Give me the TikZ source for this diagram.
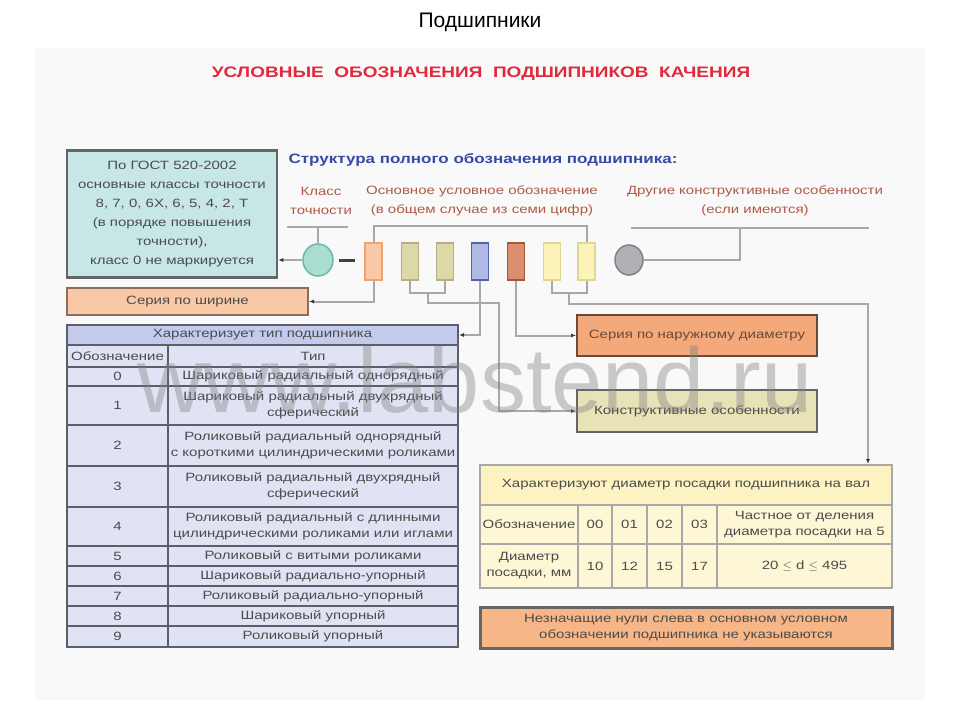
\documentclass[tikz,border=0pt]{standalone}
\usepackage{fontspec}
\setmainfont{Liberation Sans}[FakeStretch=1.25]
\newfontfamily\slidefont{Liberation Sans}
\usetikzlibrary{arrows.meta,shapes.geometric,calc}

\definecolor{panelbg}{HTML}{F9F9F9}
\definecolor{titlered}{HTML}{E0293A}
\definecolor{headblue}{HTML}{3A48A6}
\definecolor{labelbrown}{HTML}{B05A48}
\definecolor{inkgrey}{HTML}{4C4C4C}
\definecolor{boxgrey}{HTML}{666666}
\definecolor{linegrey}{HTML}{A8A8A8}
\definecolor{tealfill}{HTML}{C6E7E5}
\definecolor{clsfill}{HTML}{A9DDD0}
\definecolor{clsdraw}{HTML}{6DB9A9}
\definecolor{peach}{HTML}{F9C8A6}
\definecolor{peachdraw}{HTML}{8C6C5C}
\definecolor{dgpeach}{HTML}{F1A46A}
\definecolor{khaki}{HTML}{DCD8A8}
\definecolor{khakidraw}{HTML}{B6AE88}
\definecolor{dgblue}{HTML}{B1B9E5}
\definecolor{dgbluedraw}{HTML}{5262B2}
\definecolor{dgbrown}{HTML}{D98F6F}
\definecolor{dgbrowndraw}{HTML}{A25A3A}
\definecolor{paleyellow}{HTML}{FBF3B8}
\definecolor{paleyellowdraw}{HTML}{DFD792}
\definecolor{othfill}{HTML}{B1B1B5}
\definecolor{othdraw}{HTML}{818189}
\definecolor{salmon}{HTML}{F4A97A}
\definecolor{salmondraw}{HTML}{6A4A3A}
\definecolor{constrfill}{HTML}{E7E3B7}
\definecolor{rowfill}{HTML}{DFE3F3}
\definecolor{headfill}{HTML}{C3CAEC}
\definecolor{rowline}{HTML}{5C5E6A}
\definecolor{shaftfill}{HTML}{FDF7D6}
\definecolor{shafthead}{HTML}{FCF2C2}
\definecolor{notefill}{HTML}{F6B687}

\begin{document}
\begin{tikzpicture}[x=1pt,y=-1pt,
  >=Latex,
  txt/.style={text=inkgrey,font=\fontsize{12}{16}\selectfont},
  box/.style={draw,line width=2.5pt,inner sep=0pt,align=center,txt},
  cell/.style={draw=rowline,line width=2pt,fill=rowfill,inner sep=0pt,align=center,txt},
  shcell/.style={draw=linegrey,line width=2pt,fill=shaftfill,inner sep=0pt,align=center,txt},
  digit/.style={draw,line width=1.5pt,minimum width=17pt,minimum height=37pt,inner sep=0pt},
  label/.style={text=labelbrown,align=center,font=\fontsize{12}{19}\selectfont},
  conn/.style={draw=linegrey,line width=2pt},
  link/.style={conn,-{Latex[length=5pt,width=4pt,color=black!80]}}
]
  \useasboundingbox (0,0) rectangle (960,720);
  \fill[panelbg] (35,48) rectangle (925,700);

  % titles
  \node[font=\slidefont\fontsize{21}{24}\selectfont] (slidetitle) at (480,22) {Подшипники};
  \node[text=titlered,font=\bfseries\fontsize{15.2}{17}\selectfont] (maintitle) at (481,74)
    {УСЛОВНЫЕ\ \ ОБОЗНАЧЕНИЯ\ \ ПОДШИПНИКОВ\ \ КАЧЕНИЯ};

  % precision class box
  \node[box,fill=tealfill,draw=boxgrey,minimum width=210pt,minimum height=127pt,
    font=\fontsize{12}{19}\selectfont] (gost) at (172,214)
    {По ГОСТ 520-2002\\основные классы точности\\8, 7, 0, 6X, 6, 5, 4, 2, T\\
     (в порядке повышения\\точности),\\класс 0 не маркируется};

  % structure heading and labels
  \node[text=headblue,font=\bfseries\fontsize{13.6}{16}\selectfont] (struct) at (483,160)
    {Структура полного обозначения подшипника:};
  \node[label] (lblcls) at (321,201) {Класс\\точности};
  \node[label] (lblmain) at (482,201) {Основное условное обозначение\\(в общем случае из семи цифр)};
  \node[label] (lbloth) at (755,201) {Другие конструктивные особенности\\(если имеются)};

  % designation row
  \node[ellipse,draw=clsdraw,fill=clsfill,line width=1.5pt,minimum width=30pt,
    minimum height=32pt,inner sep=0pt] (cls) at (318,260) {};
  \draw[line width=3pt,draw=black!75] (339,260) -- (355,260);
  \foreach \i/\x/\fc/\dc in {1/373.5/peach/dgpeach, 2/410/khaki/khakidraw,
      3/445/khaki/khakidraw, 4/480/dgblue/dgbluedraw, 5/516/dgbrown/dgbrowndraw,
      6/552/paleyellow/paleyellowdraw, 7/586.5/paleyellow/paleyellowdraw}
    \node[digit,fill=\fc,draw=\dc] (d\i) at (\x,261.5) {};
  \node[ellipse,draw=othdraw,fill=othfill,line width=1.5pt,minimum width=28pt,
    minimum height=30pt,inner sep=0pt] (oth) at (629,260) {};

  % brackets
  \coordinate (clsL) at (287,227);
  \coordinate (clsR) at (348,227);
  \coordinate (othL) at (631,228);
  \coordinate (othR) at (869,228);
  \draw[conn] (clsL) -- (clsR);
  \draw[conn] (cls.north) -- (cls.north |- clsL);
  \draw[conn] (d1.north) -- ++(0,-16) -| (d7.north);
  \draw[conn] (othL) -- (othR);
  \draw[conn] ($(othL)!0.46!(othR)$) |- (oth.east);
  \draw[conn] (d2.south) -- ++(0,12) -| (d3.south);
  \draw[conn] (d6.south) -- ++(0,12) -| (d7.south);
  \coordinate (b23) at ($(d2.south)!0.5!(d3.south)+(0,12)$);
  \coordinate (b67) at ($(d6.south)!0.5!(d7.south)+(0,12)$);

  % side boxes
  \node[box,fill=peach,draw=peachdraw,line width=2pt,minimum width=241pt,
    minimum height=27pt] (width) at (187.5,301.5) {Серия по ширине};
  \node[box,fill=salmon,draw=salmondraw,line width=2pt,minimum width=240pt,
    minimum height=41pt,text=salmondraw] (outer) at (697,335.5) {Серия по наружному диаметру};
  \node[box,fill=constrfill,draw=boxgrey,line width=2pt,minimum width=240pt,
    minimum height=42pt] (constr) at (697,411) {Конструктивные особенности};

  % bearing type table
  \node[cell,fill=headfill,minimum width=391pt,minimum height=20pt] (typehead) at (262.5,335)
    {Характеризует тип подшипника};
  \foreach \c/\t/\ya/\yb [count=\n] in {
      Обозначение/Тип/345/367,
      0/Шариковый радиальный однорядный/367/386,
      1/Шариковый радиальный двухрядный\\сферический/386/425,
      2/Роликовый радиальный однорядный\\с короткими цилиндрическими роликами/425/466,
      3/Роликовый радиальный двухрядный\\сферический/466/507,
      4/Роликовый радиальный с длинными\\цилиндрическими роликами или иглами/507/546,
      5/Роликовый с витыми роликами/546/566,
      6/Шариковый радиально-упорный/566/586,
      7/Роликовый радиально-упорный/586/606,
      8/Шариковый упорный/606/626,
      9/Роликовый упорный/626/647}{
    \node[cell,minimum width=101pt,minimum height={(\yb-\ya)*1pt}] (code\n)
      at (117.5,{(\ya+\yb)/2}) {\c};
    \node[cell,minimum width=290pt,minimum height={(\yb-\ya)*1pt}] (type\n)
      at (313,{(\ya+\yb)/2}) {\t};
  }

  % shaft diameter table
  \node[shcell,fill=shafthead,minimum width=412pt,minimum height=40pt] (shaft) at (686,485)
    {Характеризуют диаметр посадки подшипника на вал};
  \node[shcell,minimum width=98pt,minimum height=39pt] (shcode) at (529,524.5) {Обозначение};
  \node[shcell,minimum width=98pt,minimum height=44pt] (shdiam) at (529,566) {Диаметр\\посадки, мм};
  \foreach \x/\w/\c/\d [count=\n] in {595/34/00/10, 629.5/35/01/12, 664.5/35/02/15, 699.5/35/03/17}{
    \node[shcell,minimum width=\w pt,minimum height=39pt] (shc\n) at (\x,524.5) {\c};
    \node[shcell,minimum width=\w pt,minimum height=44pt] (shd\n) at (\x,566) {\d};
  }
  \node[shcell,minimum width=175pt,minimum height=39pt] (shquot) at (804.5,524.5)
    {Частное от деления\\диаметра посадки на 5};
  \node[shcell,minimum width=175pt,minimum height=44pt] (shrange) at (804.5,566)
    {20 $\leq$ d $\leq$ 495};

  % note
  \node[box,fill=notefill,draw=boxgrey,line width=3pt,minimum width=412pt,
    minimum height=41pt] (note) at (686,627.5)
    {Незначащие нули слева в основном условном\\обозначении подшипника не указываются};

  % connectors
  \draw[link] (cls.west) -- (cls.west -| gost.east);
  \draw[link] (d1.south) |- (width.east);
  \draw[link] (b23) -- ++(0,10) -| ($(constr.west)+(-77,0)$) -- (constr.west);
  \draw[link] (d4.south) |- (typehead.east);
  \draw[link] (d5.south) |- (outer.west);
  \draw[link] (b67) -- ++(0,11) -| ([xshift=-25pt]shaft.north east);

  % watermark
  \node[text=gray,opacity=0.4,font=\slidefont\fontsize{92}{92}\selectfont,anchor=base]
    (wmark) at (475,412) {www.labstend.ru};
\end{tikzpicture}
\end{document}
